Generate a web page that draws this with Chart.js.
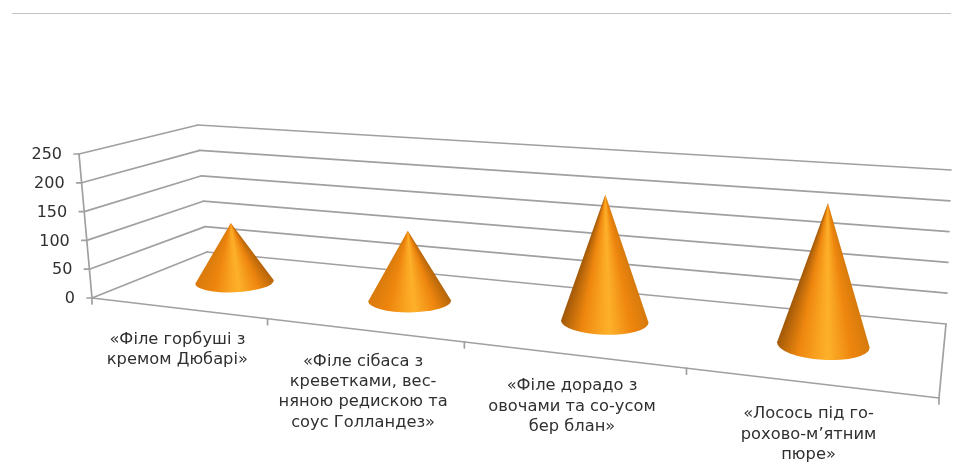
<!DOCTYPE html>
<html lang="uk">
<head>
<meta charset="utf-8">
<title>Страви</title>
<script src="https://cdn.jsdelivr.net/npm/chart.js@4"></script>
<style>
  html, body { margin: 0; padding: 0; background: #fff; overflow: hidden; }
  #rule { position: absolute; left: 12px; top: 13px; width: 939px; height: 1px; background: #c4c4c4; }
  canvas { display: block; }
</style>
</head>
<body>
<div id="rule"></div>
<canvas id="chart" width="963" height="467"></canvas>
<script>
/* ---- Data ---- */
const categories = [
  ['«Філе горбуші з', 'кремом Дюбарі»'],
  ['«Філе сібаса з', 'креветками, вес-', 'няною редискою та', 'соус Голландез»'],
  ['«Філе дорадо з', 'овочами та со-усом', 'бер блан»'],
  ['«Лосось під го-', 'рохово-м’ятним', 'пюре»'],
];
const values = [107, 121, 208, 218];
const valueMax = 250;
const valueStep = 50;

/* ---- 3D box corners: front-left, front-right, back-right, back-left ---- */
const FLOOR = [[92, 298], [939, 398], [946, 324], [207, 252]];
const CEILING = [[79, 154], [945, 212], [951, 170], [198, 125]];
// Sideways lean of the verticals at the same four corners
const LEAN = [-13, 10, 5, -9];

const LINE_COLOR = '#a0a0a0';
const TEXT_COLOR = '#303030';
const FONT = '"DejaVu Sans", sans-serif';

// Maps the unit square onto a quadrilateral
function makeProjection(q) {
  const [[x0, y0], [x1, y1], [x2, y2], [x3, y3]] = q;
  const dx1 = x1 - x2, dx2 = x3 - x2, sx = x0 - x1 + x2 - x3;
  const dy1 = y1 - y2, dy2 = y3 - y2, sy = y0 - y1 + y2 - y3;
  const den = dx1 * dy2 - dx2 * dy1;
  const g = (sx * dy2 - dx2 * sy) / den;
  const h = (dx1 * sy - sx * dy1) / den;
  const a = x1 - x0 + g * x1, b = x3 - x0 + h * x3;
  const d = y1 - y0 + g * y1, e = y3 - y0 + h * y3;
  return (u, v) => {
    const w = 1 + g * u + h * v;
    return { x: (a * u + b * v + x0) / w, y: (d * u + e * v + y0) / w };
  };
}

const floorAt = makeProjection(FLOOR);
const ceilingAt = makeProjection(CEILING);

// u: along the categories, level: 0..1 of the value axis, depth: 0 front .. 1 back
function project(u, level, depth) {
  const s = u + 0.024 * u * (1 - u); // lens bulge, leaves both ends in place
  const f = floorAt(s, depth);
  const c = ceilingAt(s, depth);
  const lean = (LEAN[0] * (1 - s) + LEAN[1] * s) * (1 - depth) + (LEAN[3] * (1 - s) + LEAN[2] * s) * depth;
  return { x: f.x + lean * level, y: f.y + (c.y - f.y) * level };
}

function line(ctx, a, b) {
  ctx.beginPath();
  ctx.moveTo(a.x, a.y);
  ctx.lineTo(b.x, b.y);
  ctx.stroke();
}

const levelOf = (chart, px) => {
  const area = chart.chartArea;
  return (area.bottom - px) / (area.bottom - area.top);
};

const alongOf = (chart, px) => {
  const area = chart.chartArea;
  return (px - area.left) / (area.right - area.left);
};

const box3d = {
  id: 'box3d',

  // Walls, floor, axis ticks and all axis text
  beforeDatasetsDraw(chart) {
    const ctx = chart.ctx;
    const yScale = chart.scales.y;
    const xScale = chart.scales.x;
    ctx.save();
    ctx.strokeStyle = LINE_COLOR;
    ctx.lineWidth = 1.7;
    ctx.lineCap = 'round';

    yScale.ticks.forEach(tick => {
      const level = levelOf(chart, yScale.getPixelForValue(tick.value));
      const front = project(0, level, 0);
      const back = project(0, level, 1);
      const right = project(1, level, 1);
      line(ctx, { x: front.x - 5, y: front.y }, front);
      line(ctx, front, back);
      line(ctx, back, right);

      ctx.fillStyle = TEXT_COLOR;
      ctx.font = '16px ' + FONT;
      ctx.textAlign = 'right';
      ctx.textBaseline = 'middle';
      ctx.fillText(String(tick.value), front.x - 17, front.y + 1);
    });

    // Value axis and the open edges of the floor
    line(ctx, project(0, 0, 0), project(0, 1, 0));
    line(ctx, project(0, 0, 0), project(1, 0, 0));
    line(ctx, project(1, 0, 0), project(1, 0, 1));

    // Category ticks sit on the band edges of the floor
    categories.concat([null]).forEach((_, i) => {
      const p = project(i / categories.length, 0, 0);
      line(ctx, p, { x: p.x, y: p.y + 6 });
    });

    ctx.fillStyle = TEXT_COLOR;
    ctx.font = '16.3px ' + FONT;
    ctx.textAlign = 'center';
    ctx.textBaseline = 'middle';
    categories.forEach((lines, i) => {
      const p = project(alongOf(chart, xScale.getPixelForValue(i)), 0, 0);
      lines.forEach((text, n) => ctx.fillText(text, p.x, p.y + 31.5 + n * 20.3));
    });
    ctx.restore();
  },

  // Bars are replaced by shaded cones standing mid-depth on the floor
  beforeDatasetDraw(chart, args) {
    const meta = args.meta;
    const ctx = chart.ctx;
    meta.data.forEach(bar => {
      const u = alongOf(chart, bar.x);
      const level = levelOf(chart, bar.y);
      const du = (bar.width / 2) / chart.chartArea.width;
      drawCone(ctx, u, level, du);
    });
    return false;
  },
};

function drawCone(ctx, u, level, du) {
  const centre = project(u, 0, 0.5);
  const tip = project(u, level, 0.5);
  const span = project(u + du, 0, 0.5).x - project(u - du, 0, 0.5).x;
  const rx = 6.5 * Math.sqrt(span / 2);
  const ry = rx * (0.25 + 0.08 * u);
  const tilt = (-3.5 + 8 * u) * Math.PI / 180;

  const left = { x: centre.x - rx * Math.cos(tilt), y: centre.y - rx * Math.sin(tilt) };
  const right = { x: centre.x + rx * Math.cos(tilt), y: centre.y + rx * Math.sin(tilt) };

  // Shading fans out from the tip; the darker side moves from right to left along the axis
  const a1 = Math.atan2(right.y - tip.y, right.x - tip.x);
  const a2 = Math.atan2(left.y - tip.y, left.x - tip.x);
  const pad = 0.02;
  const turn = Math.PI * 2;
  const grad = ctx.createConicGradient(a1 - pad, tip.x, tip.y);
  const stop = t => (pad + (a2 - a1) * (1 - t)) / turn;
  const edgeLeft = u < 0.5 ? '#d87a0c' : '#a05808';
  const edgeRight = u < 0.5 ? '#b4640a' : '#d67a0c';
  grad.addColorStop(0, edgeRight);
  grad.addColorStop(stop(1), edgeRight);
  grad.addColorStop(stop(0.8), '#ee860e');
  grad.addColorStop(stop(0.56), '#fdb02a');
  grad.addColorStop(stop(0.48), '#fba824');
  grad.addColorStop(stop(0.25), '#ee860e');
  grad.addColorStop(stop(0), edgeLeft);
  grad.addColorStop(1, edgeRight);

  ctx.save();
  ctx.fillStyle = grad;
  ctx.beginPath();
  ctx.moveTo(tip.x, tip.y);
  ctx.lineTo(left.x, left.y);
  ctx.ellipse(centre.x, centre.y, rx, ry, tilt, Math.PI, 0, true);
  ctx.closePath();
  ctx.fill();
  ctx.restore();
}

new Chart(document.getElementById('chart'), {
  type: 'bar',
  data: {
    labels: categories,
    datasets: [{
      label: 'Страви',
      data: values,
      backgroundColor: '#ee860e',
      barPercentage: 0.8,
      categoryPercentage: 0.55,
    }],
  },
  options: {
    responsive: false,
    animation: false,
    layout: { padding: { left: 92, right: 24, top: 154, bottom: 169 } },
    plugins: { legend: { display: false }, tooltip: { enabled: false } },
    scales: {
      x: { display: false },
      y: { display: false, min: 0, max: valueMax, ticks: { stepSize: valueStep } },
    },
  },
  plugins: [box3d],
});
</script>
</body>
</html>
